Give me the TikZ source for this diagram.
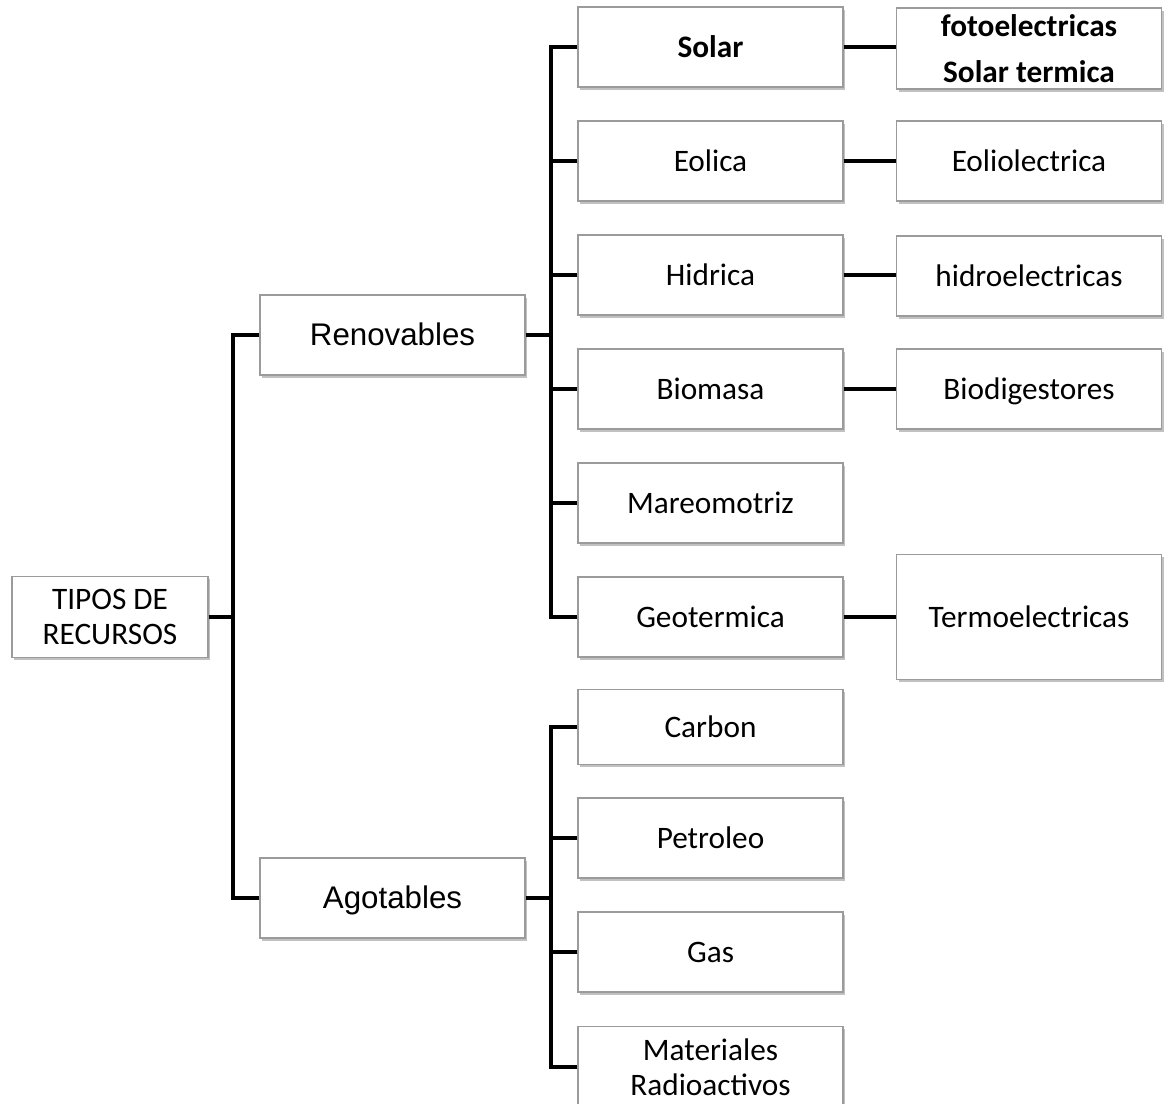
\documentclass[tikz,border=0pt]{standalone}
\usepackage{fontspec}
\setmainfont{Carlito}
\newfontfamily\arialfont{Liberation Sans}
\usetikzlibrary{shadows}
\definecolor{boxgray}{RGB}{155,155,155}

\begin{document}
\begin{tikzpicture}[x=0.02cm, y=-0.02cm,
  every node/.style={font=\fontsize{17.8}{20}\selectfont},
  box/.style={draw=boxgray, fill=white, line width=0.8pt, minimum width=5.3cm, minimum height=1.6cm, align=center, inner sep=0pt,
    drop shadow={shadow xshift=1.2pt, shadow yshift=-1.6pt, opacity=0.35, fill=black!70}},
  single/.style={box, text height=12.5pt, text depth=0pt},
  group/.style={single, font=\arialfont\fontsize{17.8}{20}\selectfont},
  link/.style={line width=2.8pt}
]
\useasboundingbox (0,0) rectangle (1169,1104);

% Root
\node[box, minimum width=3.92cm, minimum height=1.62cm, font=\fontsize{17.8}{19.8}\selectfont] (tipos) at (110,617) {TIPOS DE\\RECURSOS};

% Groups
\node[group] (renov) at (392.5,335) {Renovables};
\node[group] (agot) at (392.5,898) {Agotables};

% Renovables
\node[single, font=\bfseries\fontsize{17.8}{20}\selectfont] (solar) at (710.5,47) {Solar};
\node[single] (eolica) at (710.5,161) {Eolica};
\node[single] (hidrica) at (710.5,275) {Hidrica};
\node[single] (biomasa) at (710.5,389) {Biomasa};
\node[single] (mareo) at (710.5,503) {Mareomotriz};
\node[single] (geoter) at (710.5,617) {Geotermica};

% Agotables
\node[single, minimum height=1.5cm] (carbon) at (710.5,727) {Carbon};
\node[single] (petro) at (710.5,838) {Petroleo};
\node[single] (gas) at (710.5,952) {Gas};
\node[box, minimum height=1.62cm, font=\fontsize{17.8}{19.8}\selectfont] (radio) at (710.5,1067) {Materiales\\Radioactivos};

% Applications
\node[box, minimum height=1.62cm, font=\bfseries\fontsize{17.8}{20}\selectfont] (fotos) at (1029,48.5) {fotoelectricas\\[6.5pt]Solar termica};
\node[single] (eolio) at (1029,161) {Eoliolectrica};
\node[single] (hidro) at (1029,276) {hidroelectricas};
\node[single] (biodig) at (1029,389) {Biodigestores};
\node[single, minimum height=2.5cm] (termo) at (1029,617) {Termoelectricas};

% Trunks
\coordinate (t1) at (233,617);
\coordinate (t2) at (551,335);
\coordinate (t3) at (551,898);

% Connections
\draw[link] (tipos.east) -- (t1);
\draw[link] (renov.west) -| (t1);
\draw[link] (agot.west) -| (t1);
\draw[link] (renov.east) -- (t2);
\foreach \b in {solar, eolica, hidrica, biomasa, mareo, geoter}
  \draw[link] (\b.west) -| (t2);
\draw[link] (agot.east) -- (t3);
\foreach \b in {carbon, petro, gas, radio}
  \draw[link] (\b.west) -| (t3);
\draw[link] (solar.east) -- (solar.east -| fotos.west);
\draw[link] (eolica.east) -- (eolio.west);
\draw[link] (hidrica.east) -- (hidrica.east -| hidro.west);
\draw[link] (biomasa.east) -- (biodig.west);
\draw[link] (geoter.east) -- (termo.west);

\end{tikzpicture}
\end{document}
